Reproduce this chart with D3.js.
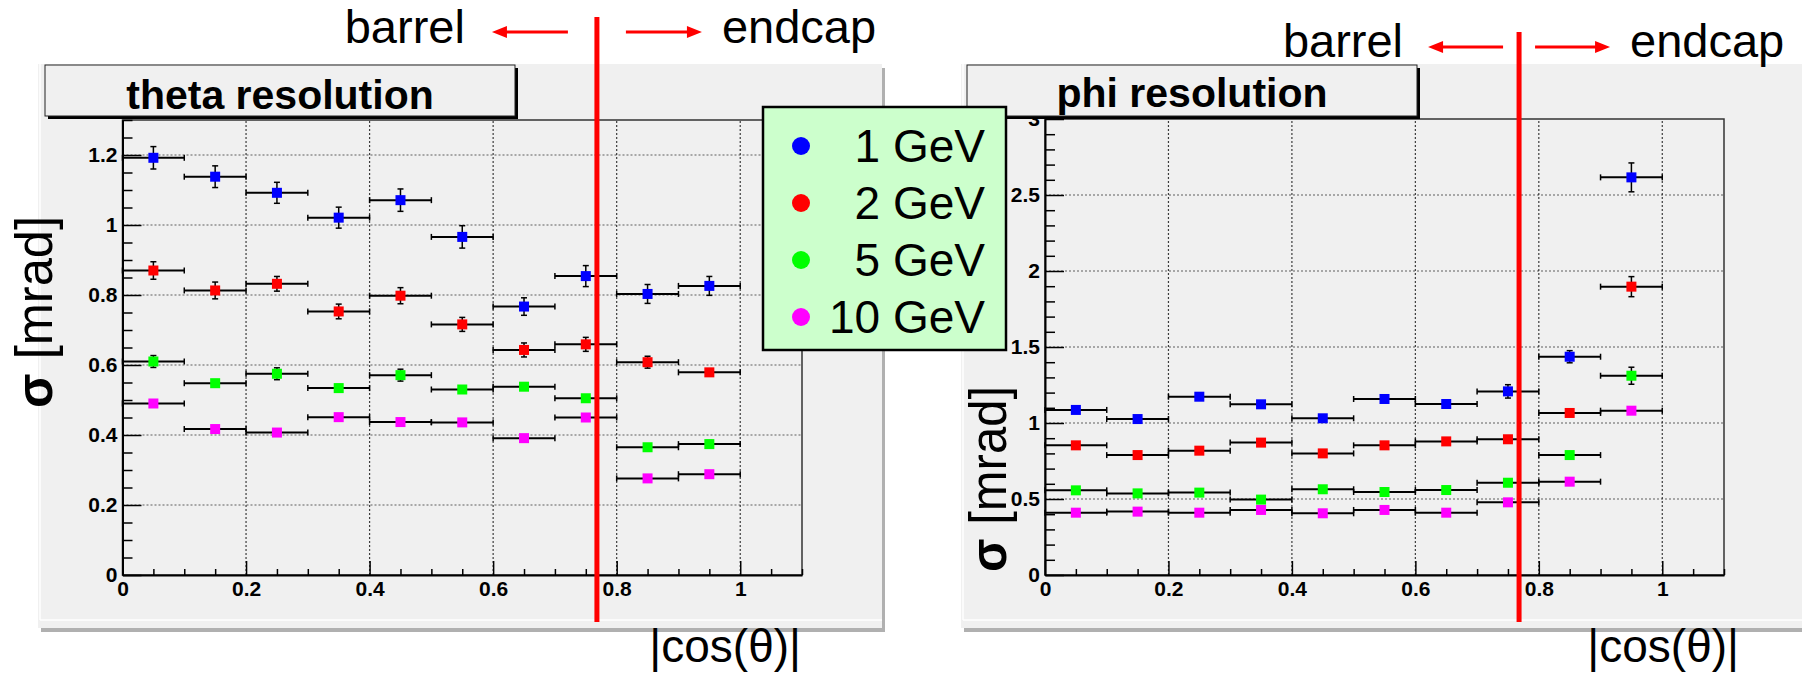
<!DOCTYPE html>
<html>
<head>
<meta charset="utf-8">
<script src="https://cdn.jsdelivr.net/npm/d3@7"></script>
<style>
  body { margin: 0; background: #ffffff; }
  svg { display: block; }
</style>
</head>
<body>
<script>
// bins in |cos(theta)|
const binCenters = [0.05, 0.15, 0.25, 0.35, 0.45, 0.55, 0.65, 0.75, 0.85, 0.95];
const binHalf = 0.05;
const energies = ['1 GeV', '2 GeV', '5 GeV', '10 GeV'];
const colors = ['#0000ff', '#ff0000', '#00ff00', '#ff00ff'];
const barrelEdge = 0.768;

// theta resolution [mrad]
const theta1 = [1.192, 1.138, 1.092, 1.021, 1.071, 0.966, 0.767, 0.854, 0.803, 0.826];
const theta2 = [0.870, 0.813, 0.832, 0.753, 0.798, 0.716, 0.643, 0.659, 0.608, 0.579];
const theta5 = [0.610, 0.548, 0.575, 0.534, 0.571, 0.530, 0.538, 0.505, 0.365, 0.374];
const theta10 = [0.490, 0.417, 0.407, 0.451, 0.437, 0.436, 0.391, 0.450, 0.276, 0.288];
const thetaErr1 = [0.032, 0.031, 0.030, 0.030, 0.032, 0.032, 0.025, 0.030, 0.027, 0.027];
const thetaErr2 = [0.025, 0.024, 0.021, 0.021, 0.023, 0.020, 0.020, 0.020, 0.017, 0.010];
const thetaErr5 = [0.017, 0.010, 0.017, 0.010, 0.017, 0.010, 0.010, 0.010, 0.010, 0.010];
const thetaErr10 = [0.008, 0.008, 0.008, 0.008, 0.008, 0.008, 0.008, 0.008, 0.008, 0.008];

// phi resolution [mrad]
const phi1 = [1.086, 1.026, 1.173, 1.123, 1.031, 1.158, 1.125, 1.208, 1.436, 2.616];
const phi2 = [0.853, 0.789, 0.818, 0.871, 0.800, 0.853, 0.879, 0.893, 1.066, 1.897];
const phi5 = [0.557, 0.537, 0.542, 0.496, 0.564, 0.546, 0.559, 0.607, 0.789, 1.311];
const phi10 = [0.410, 0.417, 0.410, 0.428, 0.406, 0.428, 0.410, 0.478, 0.614, 1.081];
const phiErr1 = [0.015, 0.015, 0.015, 0.015, 0.015, 0.015, 0.015, 0.044, 0.040, 0.095];
const phiErr2 = [0.012, 0.012, 0.012, 0.012, 0.012, 0.012, 0.012, 0.015, 0.015, 0.066];
const phiErr5 = [0.010, 0.010, 0.010, 0.010, 0.010, 0.010, 0.010, 0.012, 0.012, 0.056];
const phiErr10 = [0.008, 0.008, 0.008, 0.008, 0.008, 0.008, 0.008, 0.010, 0.010, 0.015];

// axis ticks
const xMajor = [0, 0.2, 0.4, 0.6, 0.8, 1];
const thetaMajor = [0, 0.2, 0.4, 0.6, 0.8, 1, 1.2];
const phiMajor = [0, 0.5, 1, 1.5, 2, 2.5, 3];

const W = 1802, H = 673;
const FONT = "'Liberation Sans', Arial, Helvetica, sans-serif";
const padFill = '#f0f0f0';

const svg = d3.select('body').append('svg')
  .attr('width', W)
  .attr('height', H)
  .style('background', '#ffffff');

function fmt(d) { return String(+d.toFixed(2)); }

function range(a, b, step) {
  const out = [];
  for (let i = 0; a + i * step <= b + 1e-9; i++) out.push(+(a + i * step).toFixed(3));
  return out;
}

function drawPanel(p) {
  const g = svg.append('g');

  // pad with bevel
  g.append('rect').attr('x', p.pad[0] + 3).attr('y', p.pad[1] + 4)
    .attr('width', p.pad[2] - p.pad[0]).attr('height', p.pad[3] - p.pad[1])
    .attr('fill', '#b0b0b0');
  g.append('rect').attr('x', p.pad[0]).attr('y', p.pad[1])
    .attr('width', p.pad[2] - p.pad[0]).attr('height', p.pad[3] - p.pad[1])
    .attr('fill', padFill);
  g.append('line').attr('x1', p.pad[0] + 2).attr('x2', p.pad[0] + 2)
    .attr('y1', p.pad[1]).attr('y2', p.pad[3] - 8)
    .attr('stroke', '#ffffff').attr('stroke-width', 1.5);
  g.append('line').attr('x1', p.pad[0] + 2).attr('x2', p.pad[2])
    .attr('y1', p.pad[3] - 8).attr('y2', p.pad[3] - 8)
    .attr('stroke', '#ffffff').attr('stroke-width', 1.5);

  const x = d3.scaleLinear().domain([0, 1.1]).range(p.xr);
  const y = d3.scaleLinear().domain([0, p.ymax]).range(p.yr);

  // grid
  g.append('g').selectAll('line').data(xMajor.filter(d => d > 0)).join('line')
    .attr('x1', d => x(d)).attr('x2', d => x(d))
    .attr('y1', y(0)).attr('y2', y(p.ymax))
    .attr('stroke', '#000').attr('stroke-width', 1.2)
    .attr('stroke-dasharray', '2,2').attr('opacity', 0.75);
  g.append('g').selectAll('line').data(p.yMajor.filter(d => d > 0 && d < p.ymax)).join('line')
    .attr('x1', x(0)).attr('x2', x(1.1))
    .attr('y1', d => y(d)).attr('y2', d => y(d))
    .attr('stroke', '#000').attr('stroke-width', 1.2)
    .attr('stroke-dasharray', '2,2').attr('opacity', 0.6);

  // frame
  g.append('rect')
    .attr('x', x(0)).attr('y', y(p.ymax))
    .attr('width', x(1.1) - x(0)).attr('height', y(0) - y(p.ymax))
    .attr('fill', 'none').attr('stroke', '#333').attr('stroke-width', 1.5);

  // axes (ticks point into the frame)
  const xMinor = range(0, 1.1, 0.05).filter(d => xMajor.indexOf(d) < 0);
  const yMinor = range(0, p.ymax, p.yMinorStep).filter(d => p.yMajor.indexOf(d) < 0);

  const xAxis = g.append('g').attr('transform', `translate(0,${y(0)})`)
    .call(d3.axisBottom(x).tickValues(xMajor).tickFormat(fmt).tickSize(-14).tickSizeOuter(0).tickPadding(6));
  g.append('g').attr('transform', `translate(0,${y(0)})`)
    .call(d3.axisBottom(x).tickValues(xMinor).tickFormat('').tickSize(-6).tickSizeOuter(0))
    .select('.domain').remove();
  const yAxis = g.append('g').attr('transform', `translate(${x(0)},0)`)
    .call(d3.axisLeft(y).tickValues(p.yMajor).tickFormat(fmt).tickSize(-19).tickSizeOuter(0).tickPadding(5));
  g.append('g').attr('transform', `translate(${x(0)},0)`)
    .call(d3.axisLeft(y).tickValues(yMinor).tickFormat('').tickSize(-10).tickSizeOuter(0))
    .select('.domain').remove();

  g.selectAll('.domain').attr('stroke', '#000').attr('stroke-width', 2);
  g.selectAll('.tick line').attr('stroke', '#000').attr('stroke-width', 1.5);
  [xAxis, yAxis].forEach(a => a.selectAll('text')
    .attr('font-family', FONT).attr('font-weight', 'bold')
    .attr('font-size', 21).attr('fill', '#000'));

  // data: error bars + square markers
  p.series.forEach((s, k) => {
    const sg = g.append('g');
    const pts = binCenters.map((c, i) => ({ c, v: s.values[i], e: s.errors[i] }));
    sg.selectAll('line.h').data(pts).join('line').attr('class', 'h')
      .attr('x1', d => x(d.c - binHalf)).attr('x2', d => x(d.c + binHalf))
      .attr('y1', d => y(d.v)).attr('y2', d => y(d.v))
      .attr('stroke', '#000').attr('stroke-width', 2);
    ['lo', 'hi'].forEach(side => {
      sg.selectAll('line.hc' + side).data(pts).join('line').attr('class', 'hc' + side)
        .attr('x1', d => x(side === 'lo' ? d.c - binHalf : d.c + binHalf))
        .attr('x2', d => x(side === 'lo' ? d.c - binHalf : d.c + binHalf))
        .attr('y1', d => y(d.v) - 3).attr('y2', d => y(d.v) + 3)
        .attr('stroke', '#000').attr('stroke-width', 1.5);
      sg.selectAll('line.vc' + side).data(pts).join('line').attr('class', 'vc' + side)
        .attr('x1', d => x(d.c) - 3).attr('x2', d => x(d.c) + 3)
        .attr('y1', d => y(side === 'lo' ? d.v - d.e : d.v + d.e))
        .attr('y2', d => y(side === 'lo' ? d.v - d.e : d.v + d.e))
        .attr('stroke', '#000').attr('stroke-width', 1.5);
    });
    sg.selectAll('line.v').data(pts).join('line').attr('class', 'v')
      .attr('x1', d => x(d.c)).attr('x2', d => x(d.c))
      .attr('y1', d => y(d.v - d.e)).attr('y2', d => y(d.v + d.e))
      .attr('stroke', '#000').attr('stroke-width', 1.5);
    sg.selectAll('rect').data(pts).join('rect')
      .attr('x', d => x(d.c) - 5).attr('y', d => y(d.v) - 5)
      .attr('width', 10).attr('height', 10)
      .attr('fill', colors[k]);
  });

  // title box with shadow
  const tb = p.titleBox;
  g.append('rect').attr('x', tb[0] + 3).attr('y', tb[1] + 3)
    .attr('width', tb[2] - tb[0]).attr('height', tb[3] - tb[1]).attr('fill', '#000');
  g.append('rect').attr('x', tb[0]).attr('y', tb[1])
    .attr('width', tb[2] - tb[0]).attr('height', tb[3] - tb[1])
    .attr('fill', padFill).attr('stroke', '#222').attr('stroke-width', 1);
  g.append('text')
    .attr('x', (tb[0] + tb[2]) / 2).attr('y', p.titleBase)
    .attr('text-anchor', 'middle')
    .attr('font-family', FONT).attr('font-weight', 'bold').attr('font-size', 41)
    .attr('fill', '#000')
    .text(p.title);

  // axis titles
  g.append('text')
    .attr('transform', `translate(${p.yTitle[0]},${p.yTitle[1]}) rotate(-90)`)
    .attr('text-anchor', 'middle')
    .attr('font-family', FONT).attr('font-size', 52).attr('fill', '#000')
    .attr('textLength', p.yTitle[2]).attr('lengthAdjust', 'spacingAndGlyphs')
    .call(t => {
      t.append('tspan').attr('font-weight', 'bold').text('σ');
      t.append('tspan').text(' [mrad]');
    });
  g.append('text')
    .attr('x', p.xTitle[0]).attr('y', p.xTitle[1])
    .attr('text-anchor', 'end')
    .attr('font-family', FONT).attr('font-size', 46).attr('fill', '#000')
    .text('|cos(θ)|');

  // barrel / endcap marker
  const xe = x(barrelEdge);
  const a = p.arrow;
  g.append('line').attr('x1', xe).attr('x2', xe)
    .attr('y1', p.lineTop).attr('y2', 622)
    .attr('stroke', '#ff0000').attr('stroke-width', 5);
  g.append('line').attr('x1', xe - a.gap).attr('x2', xe - a.tip + 12)
    .attr('y1', p.arrowY).attr('y2', p.arrowY)
    .attr('stroke', '#ff0000').attr('stroke-width', 3);
  g.append('path')
    .attr('d', `M${xe - a.tip},${p.arrowY} L${xe - a.tip + 15},${p.arrowY - 6} L${xe - a.tip + 15},${p.arrowY + 6} Z`)
    .attr('fill', '#ff0000');
  g.append('line').attr('x1', xe + a.gap).attr('x2', xe + a.tip - 12)
    .attr('y1', p.arrowY).attr('y2', p.arrowY)
    .attr('stroke', '#ff0000').attr('stroke-width', 3);
  g.append('path')
    .attr('d', `M${xe + a.tip},${p.arrowY} L${xe + a.tip - 15},${p.arrowY - 6} L${xe + a.tip - 15},${p.arrowY + 6} Z`)
    .attr('fill', '#ff0000');
  g.append('text')
    .attr('x', xe - a.barrel).attr('y', p.labelBase)
    .attr('text-anchor', 'end')
    .attr('font-family', FONT).attr('font-size', 47).attr('fill', '#000')
    .text('barrel');
  g.append('text')
    .attr('x', xe + a.endcap).attr('y', p.labelBase)
    .attr('font-family', FONT).attr('font-size', 47).attr('fill', '#000')
    .text('endcap');
}

drawPanel({
  pad: [38, 64, 882, 628],
  xr: [122.5, 802],
  yr: [575, 120],
  ymax: 1.3,
  yMajor: thetaMajor,
  yMinorStep: 0.05,
  titleBox: [45, 65, 515, 116],
  titleBase: 109,
  title: 'theta resolution',
  yTitle: [52, 312, 192],
  xTitle: [801, 662],
  lineTop: 17,
  arrowY: 32,
  labelBase: 43,
  arrow: { gap: 29, tip: 105, barrel: 132, endcap: 125 },
  series: [
    { values: theta1, errors: thetaErr1 },
    { values: theta2, errors: thetaErr2 },
    { values: theta5, errors: thetaErr5 },
    { values: theta10, errors: thetaErr10 }
  ]
});

drawPanel({
  pad: [961, 64, 1812, 628],
  xr: [1045, 1724],
  yr: [575, 119],
  ymax: 3,
  yMajor: phiMajor,
  yMinorStep: 0.1,
  titleBox: [967, 65, 1417, 116],
  titleBase: 107,
  title: 'phi resolution',
  yTitle: [1006, 479, 186],
  xTitle: [1739, 662],
  lineTop: 32,
  arrowY: 47,
  labelBase: 57,
  arrow: { gap: 16, tip: 91, barrel: 116, endcap: 111 },
  series: [
    { values: phi1, errors: phiErr1 },
    { values: phi2, errors: phiErr2 },
    { values: phi5, errors: phiErr5 },
    { values: phi10, errors: phiErr10 }
  ]
});

// legend
const legend = svg.append('g');
legend.append('rect')
  .attr('x', 763).attr('y', 107).attr('width', 243).attr('height', 243)
  .attr('fill', '#ccffcc').attr('stroke', '#000').attr('stroke-width', 2.5);
const legendY = d3.scalePoint().domain(energies).range([146, 317]);
legend.selectAll('circle').data(energies).join('circle')
  .attr('cx', 801).attr('cy', d => legendY(d)).attr('r', 9)
  .attr('fill', (d, i) => colors[i]);
legend.selectAll('text').data(energies).join('text')
  .attr('x', 985).attr('y', d => legendY(d) + 16)
  .attr('text-anchor', 'end')
  .attr('font-family', FONT).attr('font-size', 46).attr('fill', '#000')
  .text(d => d);
</script>
</body>
</html>
